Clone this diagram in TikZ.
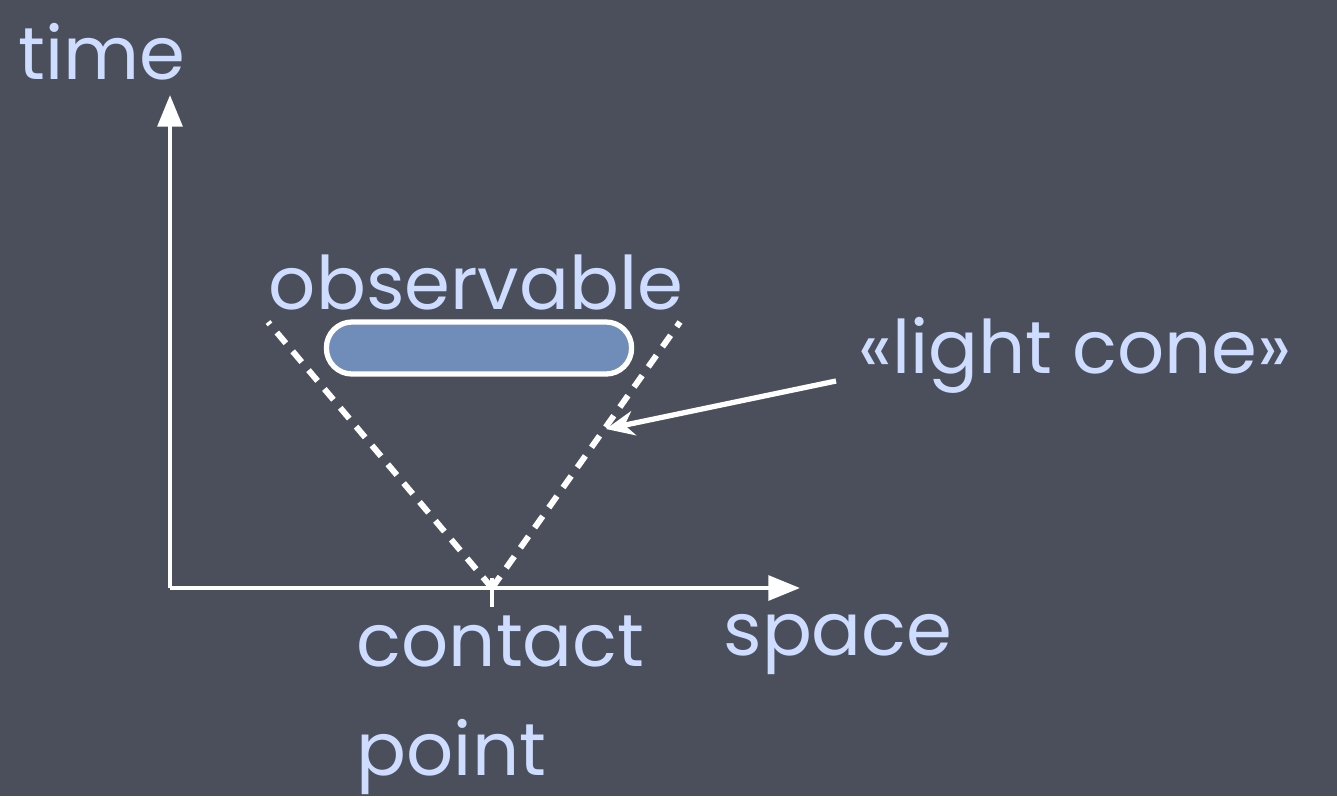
\documentclass[tikz,border=0pt]{standalone}
\usepackage{fontspec}
\setmainfont{Poppins}
\usepackage{xcolor}
\usetikzlibrary{arrows.meta}
\definecolor{boardbg}{RGB}{74, 79, 91}
\definecolor{chalkblue}{RGB}{206, 220, 255}
\definecolor{obsfill}{RGB}{112, 141, 186}

\begin{document}
\begin{tikzpicture}[x=0.01cm, y=-0.01cm, every node/.style={font=\fontsize{21}{25}\selectfont, text=chalkblue, inner sep=0pt},
    axis/.style={draw=white, line width=1.2pt, -{Triangle[width=7pt,length=9pt]}},
    cone/.style={draw=white, line width=1.7pt, dash pattern=on 4pt off 3pt}]
    % board
    \fill[boardbg] (0,0) rectangle (1337,796);
    \useasboundingbox (0,0) rectangle (1337,796);

    % axes
    \coordinate (origin) at (170,588);
    \coordinate (ttop) at (170,95);
    \coordinate (sright) at (800,588);
    \coordinate (contact) at (492,588);
    \draw[axis] (origin) -- (ttop);
    \draw[axis] (origin) -- (sright);
    \draw[white, line width=1.2pt] (492,578) -- (492,607);

    % cone
    \coordinate (coneleft) at (268,322);
    \coordinate (coneright) at (680,322);
    \draw[cone] (contact) -- (coneleft);
    \draw[cone] (contact) -- (coneright);

    % observable
    \node[draw=white, line width=1.5pt, fill=obsfill, rounded corners=7.3pt, minimum width=3.05cm, minimum height=0.52cm] (obs) at (479,348) {};
    \node (obslabel) at (476,282) {observable};

    % labels
    \node (time) at (102,52) {time};
    \node (space) at (838,645) {space};
    \node[align=left, anchor=north west] (contactlabel) at (356,615) {contact\\[6pt]point};
    \node (lightcone) at (1075,355) {«light cone»};
    \coordinate (conehit) at (606,429);
    \draw[white, line width=1.5pt, -{Stealth[width=7pt,length=8pt]}] (836,381) -- (conehit);
\end{tikzpicture}
\end{document}
